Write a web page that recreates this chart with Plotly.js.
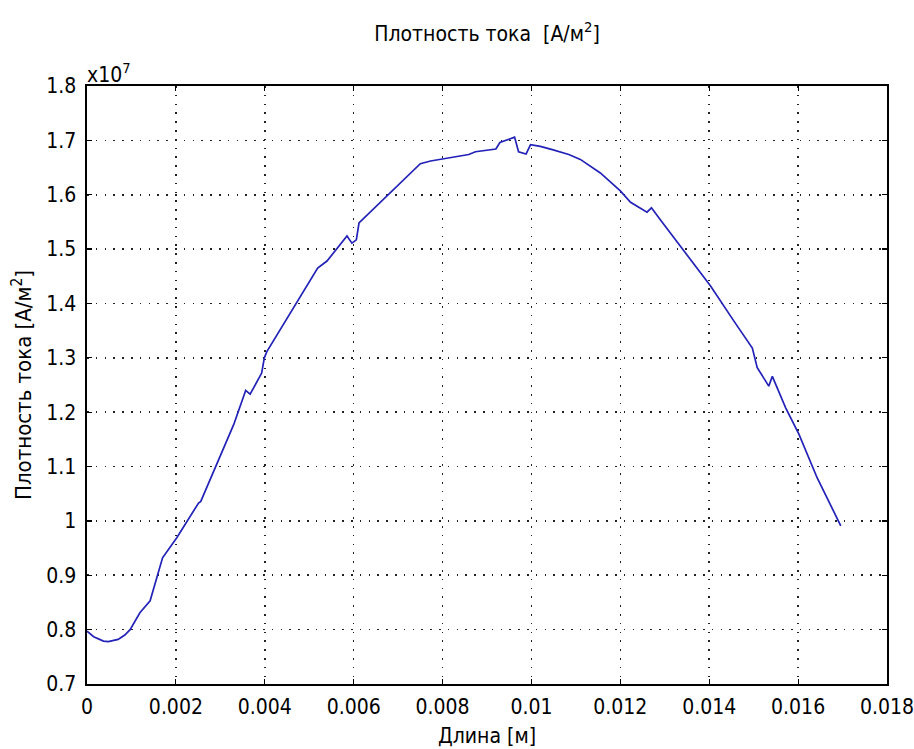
<!DOCTYPE html>
<html>
<head>
<meta charset="utf-8">
<script src="https://cdn.plot.ly/plotly-3.0.1.min.js"></script>
<style>html,body{margin:0;padding:0;background:#fff;}#chart{width:914px;height:749px;}</style>
</head>
<body>
<div id="chart"></div>
<script>
// Length, m
const lengthM = [0, 0.00015, 0.00037, 0.00048, 0.0007, 0.00085, 0.00097, 0.00119, 0.00142, 0.00157,
  0.0017, 0.00202, 0.00251, 0.00256, 0.00292, 0.0033, 0.00357, 0.00367, 0.00393, 0.00399,
  0.00405, 0.00438, 0.00476, 0.00519, 0.0054, 0.00585, 0.00596, 0.00606, 0.00612, 0.00682,
  0.0075, 0.00773, 0.00803, 0.0084, 0.00859, 0.00874, 0.00893, 0.0092, 0.00929, 0.00945,
  0.00962, 0.00971, 0.00988, 0.00998, 0.0102, 0.01047, 0.01084, 0.0111, 0.01155, 0.012,
  0.01223, 0.0126, 0.0127, 0.0129, 0.0132, 0.01366, 0.01403, 0.01456, 0.01497, 0.01508,
  0.01534, 0.01542, 0.01572, 0.01602, 0.01643, 0.01696];
// Current density, x10^7 A/m^2
const densityE7 = [0.797, 0.787, 0.779, 0.778, 0.782, 0.790, 0.800, 0.831, 0.853, 0.896,
  0.932, 0.969, 1.033, 1.036, 1.104, 1.177, 1.240, 1.233, 1.272, 1.300,
  1.312, 1.357, 1.407, 1.465, 1.478, 1.524, 1.511, 1.517, 1.548, 1.603,
  1.657, 1.662, 1.666, 1.671, 1.674, 1.679, 1.681, 1.684, 1.696, 1.701,
  1.706, 1.679, 1.675, 1.692, 1.689, 1.683, 1.674, 1.665, 1.640, 1.607,
  1.586, 1.568, 1.576, 1.554, 1.522, 1.472, 1.432, 1.367, 1.318, 1.282,
  1.248, 1.266, 1.208, 1.159, 1.079, 0.991];

const xTicks = [0, 0.002, 0.004, 0.006, 0.008, 0.01, 0.012, 0.014, 0.016, 0.018];
const xTickLabels = ["0", "0.002", "0.004", "0.006", "0.008", "0.01", "0.012", "0.014", "0.016", "0.018"];
const yTicks = [0.7, 0.8, 0.9, 1.0, 1.1, 1.2, 1.3, 1.4, 1.5, 1.6, 1.7, 1.8];
const yTickLabels = ["0.7", "0.8", "0.9", "1", "1.1", "1.2", "1.3", "1.4", "1.5", "1.6", "1.7", "1.8"];

const fontFam = "'DejaVu Sans Condensed', 'DejaVu Sans', sans-serif";

const trace = {
  x: lengthM, y: densityE7, type: "scatter", mode: "lines",
  line: {color: "#2222b8", width: 1.7}, hoverinfo: "skip"
};

const axisCommon = {
  showline: true, linecolor: "#000", linewidth: 1.6, mirror: "ticks",
  ticks: "inside", ticklen: 5, tickcolor: "#000", tickwidth: 1.2,
  showgrid: true, gridcolor: "#222", gridwidth: 1.6, griddash: "1.6px,7.2px",
  zeroline: false, ticklabeloverflow: "allow",
  tickfont: {family: fontFam, size: 21, color: "#000"}
};

const layout = {
  width: 914, height: 749,
  margin: {l: 87, r: 27, t: 86, b: 65},
  paper_bgcolor: "#fff", plot_bgcolor: "#fff",
  showlegend: false,
  title: {text: "Плотность тока  [А/м<sup>2</sup>]", font: {family: fontFam, size: 21, color: "#000"},
    xref: "paper", x: 0.5, xanchor: "center", y: 0.955, yanchor: "middle", yref: "container"},
  xaxis: Object.assign({}, axisCommon, {
    range: [0, 0.018], tickmode: "array", tickvals: xTicks, ticktext: xTickLabels,
    ticklabelstandoff: 3,
    title: {text: "Длина [м]", font: {family: fontFam, size: 21, color: "#000"}, standoff: 10}
  }),
  yaxis: Object.assign({}, axisCommon, {
    range: [0.7, 1.8], tickmode: "array", tickvals: yTicks, ticktext: yTickLabels,
    ticklabelstandoff: 5,
    title: {text: "Плотность тока [А/м<sup>2</sup>]", font: {family: fontFam, size: 22, color: "#000"}, standoff: 8}
  }),
  annotations: [{
    text: "x10<sup>7</sup>", xref: "paper", yref: "paper", x: 0, y: 1,
    xanchor: "left", yanchor: "bottom", showarrow: false, xshift: -2, yshift: -3,
    font: {family: fontFam, size: 21, color: "#000"}
  }]
};

Plotly.newPlot("chart", [trace], layout, {displayModeBar: false, staticPlot: true});
</script>
</body>
</html>
